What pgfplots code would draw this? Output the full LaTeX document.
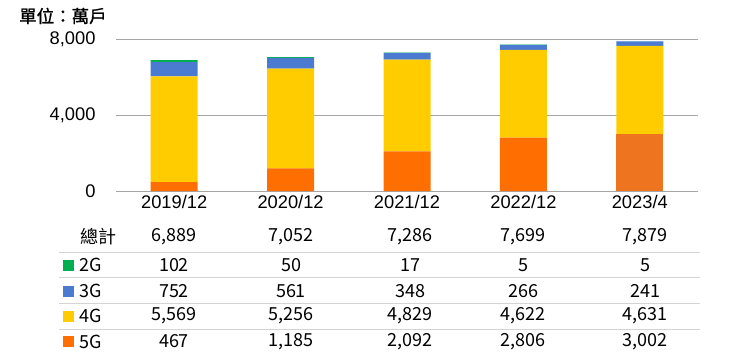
\documentclass[border=0pt]{standalone}
\usepackage{fontspec}
\setmainfont{Liberation Sans}
\newfontfamily\cjk{Noto Sans CJK TC}
\newfontfamily\cjkb[FakeBold=1.2]{Noto Sans CJK TC}
\usepackage{pgfplots}
\pgfplotsset{compat=1.18}
\definecolor{cg}{HTML}{00B050}
\definecolor{cb}{HTML}{4A7BD0}
\definecolor{cy}{HTML}{FFCC00}
\definecolor{co}{HTML}{FF6E00}
\definecolor{co2}{HTML}{EE7420}
\definecolor{gridc}{HTML}{A6A6A6}
\definecolor{linec}{HTML}{D4D4D4}
\begin{document}
\begin{tikzpicture}
\path[use as bounding box] (0,0) rectangle (751pt,-356pt);
\begin{axis}[
  at={(116pt,-191pt)}, anchor=south west,
  scale only axis, width=582pt, height=152pt,
  xmin=-0.5, xmax=4.5, ymin=0, ymax=8000,
  ybar stacked, bar width=47pt,
  axis line style={draw=none},
  major tick length=0pt,
  ytick={0,4000,8000},
  ymajorgrids, grid style={color=gridc, line width=0.9pt},
  xtick={0,1,2,3,4},
  xticklabels={2019/12,2020/12,2021/12,2022/12,2023/4},
  /pgf/number format/assume math mode=true,
  /pgf/number format/1000 sep={,},
  scaled y ticks=false,
  ticklabel style={font=\fontsize{18.3}{20}\selectfont},
  yticklabel style={xshift=-17pt},
  xticklabel style={yshift=-1pt},
  clip=false,
]
\addplot[fill=co, draw=none] coordinates {(0,467) (1,1185) (2,2092) (3,2806) (4,0)};
\addplot[fill=co2, draw=none] coordinates {(0,0) (1,0) (2,0) (3,0) (4,3002)};
\addplot[fill=cy, draw=none] coordinates {(0,5569) (1,5256) (2,4829) (3,4622) (4,4631)};
\addplot[fill=cb, draw=none] coordinates {(0,752) (1,561) (2,348) (3,266) (4,241)};
\addplot[fill=cg, draw=none] coordinates {(0,102) (1,50) (2,17) (3,5) (4,5)};
\end{axis}
% unit label
\node[anchor=west, inner sep=0pt, font=\cjkb\fontsize{17.5}{19}\selectfont] at (19pt,-16pt) {單位：萬戶};
% table lines
\foreach \yy in {252,277,303,329} {
  \draw[color=linec, line width=1pt] (59pt,-\yy pt) -- (700pt,-\yy pt);
}
% row labels
\begin{scope}[every node/.style={anchor=west, inner sep=0pt, font=\cjk\fontsize{18}{20}\selectfont}]
\node at (80pt,-236.5pt) {總計};
\node at (79pt,-265pt) {2G};
\node at (79pt,-291pt) {3G};
\node at (79pt,-316pt) {4G};
\node at (79pt,-341.5pt) {5G};
\end{scope}
\fill[cg] (63pt,-259.5pt) rectangle (74pt,-270.5pt);
\fill[cb] (63pt,-285.5pt) rectangle (74pt,-296.5pt);
\fill[cy] (63pt,-310.5pt) rectangle (74pt,-321.5pt);
\fill[co] (63pt,-336pt) rectangle (74pt,-347pt);
% values
\begin{scope}[every node/.style={anchor=center, inner sep=0pt, font=\cjk\fontsize{18}{20}\selectfont}]
\foreach \x/\t/\a/\b/\c/\d in {174/6{,}889/102/752/5{,}569/467, 291/7{,}052/50/561/5{,}256/1{,}185, 410/7{,}286/17/348/4{,}829/2{,}092, 523/7{,}699/5/266/4{,}622/2{,}806, 645/7{,}879/5/241/4{,}631/3{,}002} {
  \node at (\x pt,-236.5pt) {\t};
  \node at (\x pt,-265pt) {\a};
  \node at (\x pt,-291pt) {\b};
  \node at (\x pt,-316pt) {\c};
  \node at (\x pt,-341.5pt) {\d};
}
\end{scope}
\end{tikzpicture}
\end{document}
